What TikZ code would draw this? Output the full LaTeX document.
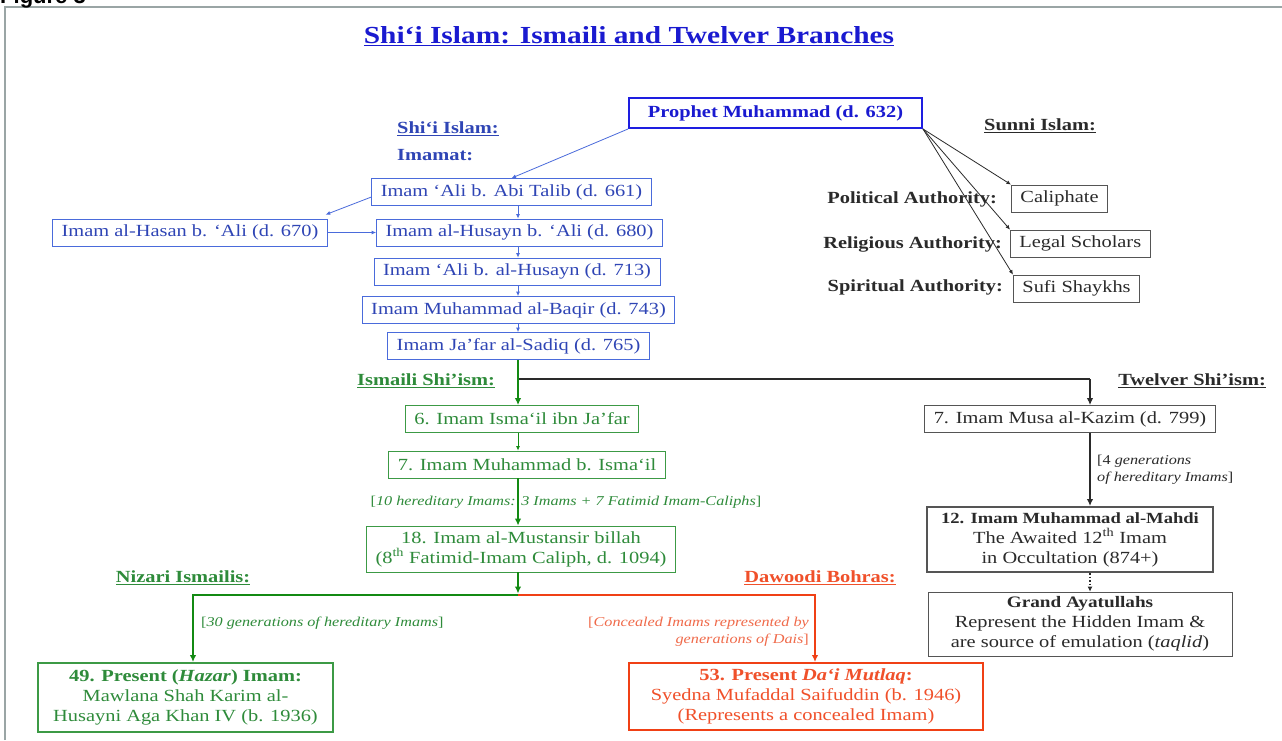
\documentclass[tikz,border=0pt]{standalone}
\usepackage{fontspec}
\setmainfont[FakeStretch=1.2]{Liberation Serif}
\setsansfont{Liberation Sans}
\usetikzlibrary{arrows.meta}
\definecolor{titleblue}{HTML}{1A1AD0}
\definecolor{bluetx}{HTML}{2F45B5}
\definecolor{bluebd}{HTML}{4A6BDB}
\definecolor{prophetbd}{HTML}{1E1EE0}
\definecolor{greentx}{HTML}{2E8B3A}
\definecolor{greenln}{HTML}{138A13}
\definecolor{greenbd}{HTML}{3C9A45}
\definecolor{redtx}{HTML}{F0502A}
\definecolor{redln}{HTML}{F04015}
\definecolor{redlbl}{HTML}{F06A4A}
\definecolor{graytx}{HTML}{2A2A2A}
\definecolor{graybd}{HTML}{555555}
\definecolor{framegray}{HTML}{9AA5A5}
\tikzset{
  boxtext/.style={font=\fontsize{17}{20}\selectfont, inner xsep=9pt, inner ysep=0pt, minimum height=27pt, align=center},
  bbox/.style={boxtext, draw=bluebd, line width=0.8pt, text=bluetx},
  gbox/.style={boxtext, draw=greenbd, line width=0.8pt, text=greentx},
  kbox/.style={boxtext, draw=graybd, line width=0.8pt, text=graytx},
  lbl/.style={font=\fontsize{17}{20}\bfseries\selectfont, inner sep=0pt},
  note/.style={font=\fontsize{13.5}{17}\selectfont, inner sep=0pt},
  thin tip/.style={-{Latex[length=4.5pt,width=4pt]}},
  thick tip/.style={-{Latex[length=7pt,width=6.5pt]}},
}
\begin{document}
\begin{tikzpicture}[x=1pt,y=-1pt]
\useasboundingbox (0,0) rectangle (1282,740);
\fill[white] (0,0) rectangle (1282,740);
\draw[framegray, line width=1.2pt] (5,740) -- (5,7) -- (1282,7);
\node[anchor=base west, inner sep=0pt, font=\sffamily\fontsize{22}{24}\bfseries\selectfont] (fig) at (0,3) {Figure 3};

% title
\node[font=\fontsize{24.5}{28}\bfseries\selectfont, text=titleblue, inner sep=0pt] (title) at (629,36) {\underline{Shi‘i Islam: Ismaili and Twelver Branches}};

% prophet
\node[draw=prophetbd, line width=2pt, text=titleblue, font=\fontsize{17}{19}\bfseries\selectfont, minimum width=293pt, minimum height=30pt, inner sep=0pt] (prophet) at (775.5,113) {Prophet Muhammad (d. 632)};

% Shi'i labels
\node[lbl, text=bluetx, anchor=west] (shilbl) at (397,129) {\underline{Shi‘i Islam:}};
\node[lbl, text=bluetx, anchor=west] (imamat) at (397,155) {Imamat:};

% Imams
\node[bbox] (ali) at (511.5,192) {Imam ‘Ali b. Abi Talib (d. 661)};
\node[bbox] (hasan) at (190,232.5) {Imam al-Hasan b. ‘Ali (d. 670)};
\node[bbox] (husayn) at (519.5,232.5) {Imam al-Husayn b. ‘Ali (d. 680)};
\node[bbox] (alih) at (517,271.5) {Imam ‘Ali b. al-Husayn (d. 713)};
\node[bbox] (baqir) at (518.5,310) {Imam Muhammad al-Baqir (d. 743)};
\node[bbox] (jafar) at (518.5,346) {Imam Ja’far al-Sadiq (d. 765)};
\coordinate (cx) at (518,0);

\draw[bluebd, line width=0.8pt, thin tip] (prophet.south west) -- (ali.north);
\draw[bluebd, line width=0.8pt, thin tip] ([yshift=-5pt]ali.west) -- ([yshift=4pt,xshift=-2pt]hasan.north east);
\draw[bluebd, line width=0.8pt, thin tip] (hasan.east) -- (husayn.west);
\draw[bluebd, line width=0.8pt, thin tip] (ali.south -| cx) -- (husayn.north -| cx);
\draw[bluebd, line width=0.8pt, thin tip] (husayn.south -| cx) -- (alih.north -| cx);
\draw[bluebd, line width=0.8pt, thin tip] (alih.south -| cx) -- (baqir.north -| cx);
\draw[bluebd, line width=0.8pt, thin tip] (baqir.south -| cx) -- (jafar.north -| cx);

% Sunni
\node[lbl, text=graytx] (sunni) at (1040,126) {\underline{Sunni Islam:}};
\node[lbl, text=graytx, anchor=east] (pol) at (997,199) {Political Authority:};
\node[lbl, text=graytx, anchor=east] (rel) at (1002,244) {Religious Authority:};
\node[lbl, text=graytx, anchor=east] (spi) at (1003,287) {Spiritual Authority:};
\node[kbox, anchor=west] (caliph) at (1011,198.5) {Caliphate};
\node[kbox, anchor=west] (legal) at (1010,243.5) {Legal Scholars};
\node[kbox, anchor=west] (sufi) at (1013,288.5) {Sufi Shaykhs};
\draw[graytx, line width=0.8pt, thin tip] (prophet.south east) -- (caliph.north west);
\draw[graytx, line width=0.8pt, thin tip] (prophet.south east) -- (legal.north west);
\draw[graytx, line width=0.8pt, thin tip] (prophet.south east) -- (sufi.north west);

% Ismaili
\node[lbl, text=greentx, anchor=west] (ismlbl) at (357,381) {\underline{Ismaili Shi’ism:}};
\node[gbox] (isma) at (522,419) {6. Imam Isma‘il ibn Ja’far};
\node[gbox] (mib) at (527,464.5) {7. Imam Muhammad b. Isma‘il};
\node[gbox, minimum height=46pt] (must) at (521,549) {18. Imam al-Mustansir billah\\(8\textsuperscript{th} Fatimid-Imam Caliph, d. 1094)};
\node[note, text=greentx] (tenlbl) at (566,502) {[\textit{10 hereditary Imams: 3 Imams + 7 Fatimid Imam-Caliphs}]};

% branch to Twelver
\coordinate (br) at (518,379);
\coordinate (tw) at (1090,379);
\draw[graytx, line width=2.2pt] (br) -- (tw);
\draw[greenln, line width=2.5pt, thick tip] (jafar.south -| cx) -- (isma.north -| cx);
\draw[greenln, line width=0.8pt, thin tip] (isma.south -| cx) -- (mib.north -| cx);
\draw[greenln, line width=2.5pt, thick tip] (mib.south -| cx) -- (must.north -| cx);

% split
\coordinate (jn) at (518,595);
\coordinate (nz) at (193,595);
\coordinate (dw) at (815,595);
\node[gbox, line width=2pt, minimum width=295pt, minimum height=69pt] (nizari) at (185.5,697.5) {\textbf{49. Present (\textit{Hazar}) Imam:}\\Mawlana Shah Karim al-\\Husayni Aga Khan IV (b. 1936)};
\node[boxtext, draw=redln, line width=2pt, text=redtx, minimum width=354pt, minimum height=67pt] (bohra) at (806,696.5) {\textbf{53. Present \textit{Da‘i Mutlaq}:}\\Syedna Mufaddal Saifuddin (b. 1946)\\(Represents a concealed Imam)};
\draw[greenln, line width=2.5pt, thick tip] (jn) -- (nz) -- (nizari.north -| nz);
\draw[redln, line width=2.5pt, thick tip] (jn) -- (dw) -- (bohra.north -| dw);
\draw[greenln, line width=2.5pt, thick tip] (must.south -| cx) -- ([yshift=1.5pt]jn);
\node[lbl, text=greentx] (nizlbl) at (183,578) {\underline{Nizari Ismailis:}};
\node[lbl, text=redtx] (dawlbl) at (820,578) {\underline{Dawoodi Bohras:}};
\node[note, text=greentx, anchor=west] (thirty) at (201,623) {[\textit{30 generations of hereditary Imams}]};
\node[note, text=redlbl, anchor=east, align=right] (conc) at (809,632) {[\textit{Concealed Imams represented by}\\\textit{generations of Dais}]};

% Twelver
\node[lbl, text=graytx, anchor=east] (twlbl) at (1266,381) {\underline{Twelver Shi’ism:}};
\node[kbox] (musa) at (1070,419) {7. Imam Musa al-Kazim (d. 799)};
\node[kbox, line width=2pt, minimum width=286pt, minimum height=65pt] (mahdi) at (1070,539.5) {{\fontsize{15.5}{20}\selectfont\textbf{12. Imam Muhammad al-Mahdi}}\\The Awaited 12\textsuperscript{th} Imam\\in Occultation (874+)};
\node[kbox, minimum width=304pt, minimum height=64pt] (grand) at (1080,624) {{\fontsize{16}{20}\selectfont\textbf{Grand Ayatullahs}}\\Represent the Hidden Imam \&\\are source of emulation (\textit{taqlid})};
\draw[graytx, line width=2.2pt, thick tip] (tw) -- (musa.north -| tw);
\draw[graytx, line width=2.2pt, thick tip] (musa.south -| tw) -- (mahdi.north -| tw);
\draw[graytx, line width=1.5pt, dotted, -{Latex[length=5pt,width=5pt]}] (mahdi.south -| tw) -- (grand.north -| tw);
\node[note, text=graytx, anchor=north west, align=left] (four) at (1097,455) {[4 \textit{generations}\\\textit{of hereditary Imams}]};
\end{tikzpicture}
\end{document}
